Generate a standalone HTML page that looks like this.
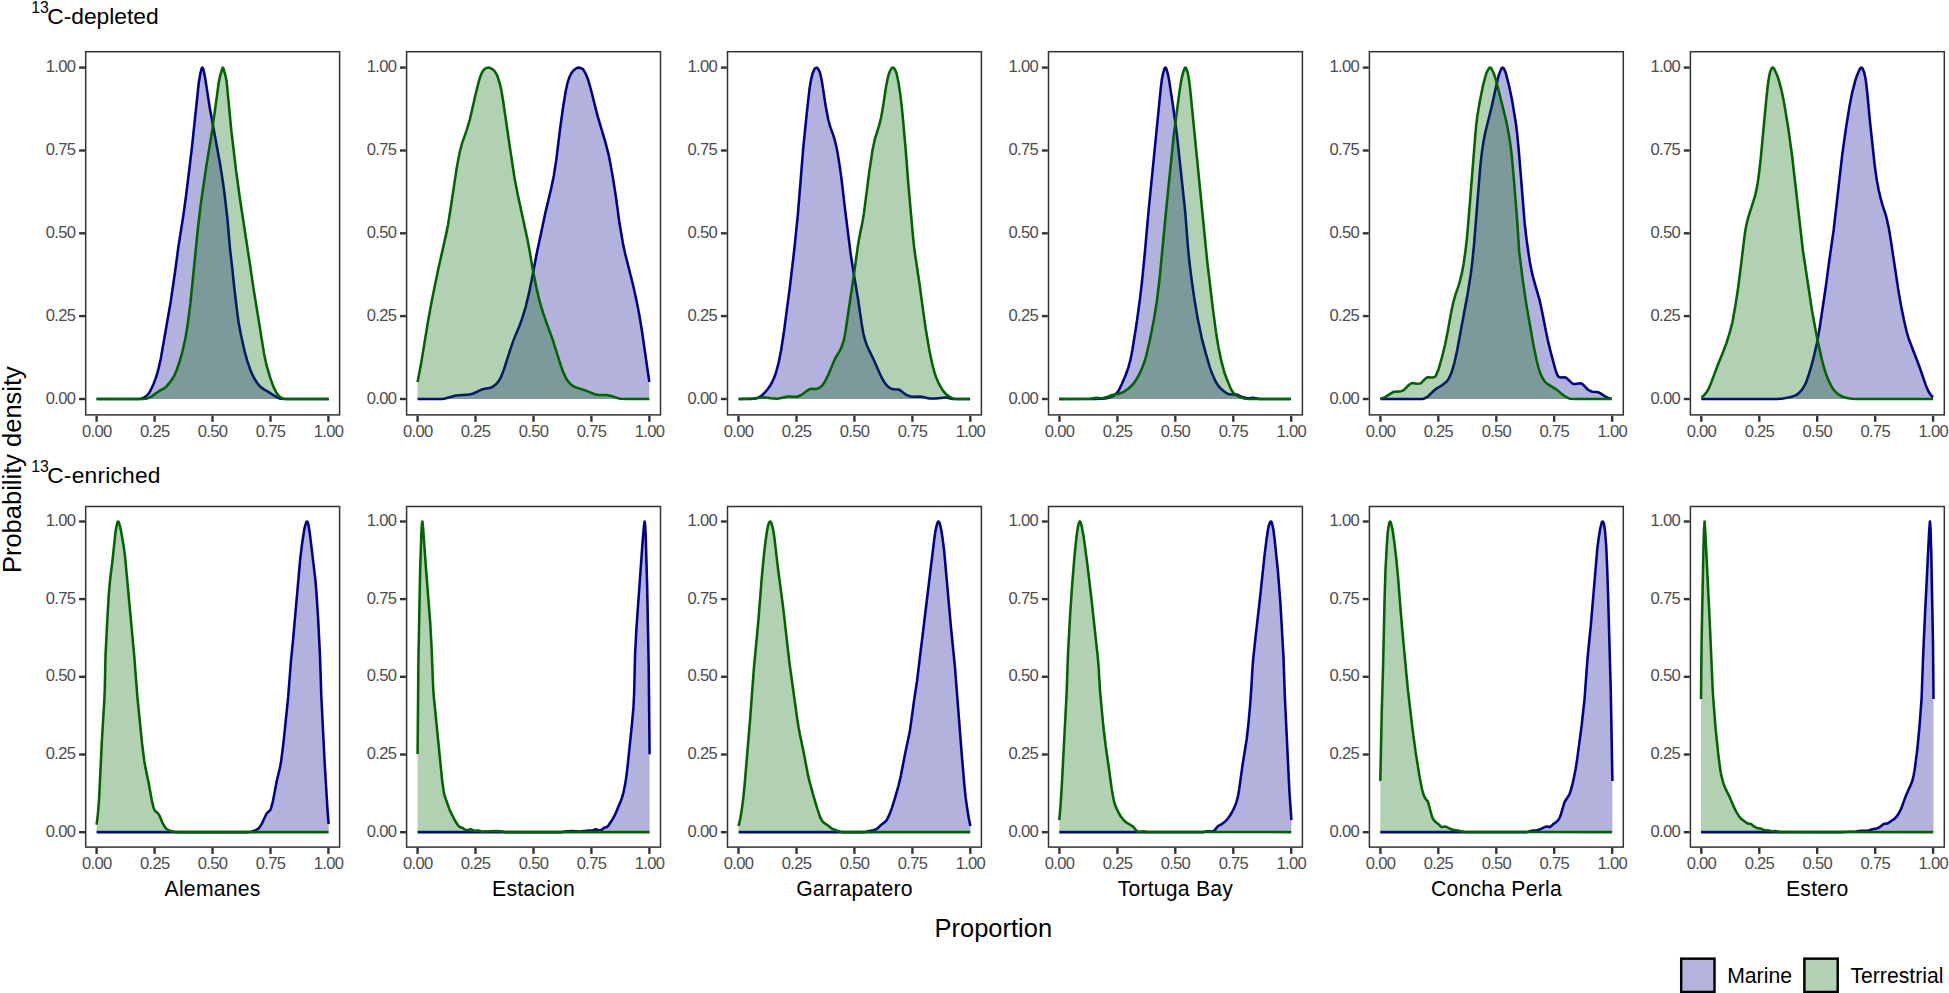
<!DOCTYPE html>
<html><head><meta charset="utf-8"><title>Probability density</title>
<style>
html,body{margin:0;padding:0;background:#fff;}
svg{display:block;}
text{font-family:"Liberation Sans",Arial,Helvetica,sans-serif;}
.tk{font-size:16.6px;fill:#4d4d4d;letter-spacing:-0.7px;}
.st{font-size:21.2px;fill:#000;letter-spacing:0.22px;}
.ti{font-size:22.8px;fill:#000;}
.ax{font-size:25.5px;fill:#000;}
.sup{font-size:15.8px;}
</style></head><body>
<svg width="1949" height="993" viewBox="0 0 1949 993">
<rect width="1949" height="993" fill="#fff"/>
<text class="ti" x="47.2" y="24.3"><tspan class="sup" x="31.2" y="13.4">13</tspan><tspan x="47.2" y="24.3">C-depleted</tspan></text>
<text class="ti" x="47.2" y="482.9"><tspan class="sup" x="31.2" y="472.0">13</tspan><tspan x="47.2" y="482.9" letter-spacing="0.2">C-enriched</tspan></text>
<text class="ax" transform="translate(21.3,469.6) rotate(-90)" text-anchor="middle">Probability density</text>
<text class="ax" x="993.3" y="936.8" text-anchor="middle">Proportion</text>
<g>
<path d="M96.6 399 L96.6 399 L138.5 399 L140.5 398.8 L142.8 398.1 L144.6 397.2 L146.2 396 L147.9 394.4 L149.4 392.5 L151.1 389.3 L153.3 384.6 L156.5 376 L158.7 367.9 L160.8 358.5 L170.7 301.7 L175.6 268 L178.3 247.4 L183.3 215.7 L186.1 195.5 L191.8 148.6 L198.8 82.5 L200.5 72.8 L201.7 68.4 L202 67.8 L202.4 67.6 L202.8 67.9 L203.3 69.3 L204.9 76.4 L209.8 108 L220 163.5 L223.1 183.3 L224.8 196 L227.4 218.7 L230 249 L232.2 267.7 L234.3 288 L237.3 313 L238.7 323 L240.9 334.8 L244.7 351.6 L247.1 360.4 L250.2 369.5 L252.2 374.3 L254.8 379.3 L257.2 383 L259.4 385.8 L261.5 387.6 L264.5 389.7 L269.7 392.7 L274.7 396 L278.9 398.2 L281.3 398.7 L285.2 399 L328.7 399 L328.7 399 Z" fill="#00008b" fill-opacity="0.3" stroke="none"/>
<path d="M96.6 399 L138.5 399 L140.5 398.8 L142.8 398.1 L144.6 397.2 L146.2 396 L147.9 394.4 L149.4 392.5 L151.1 389.3 L153.3 384.6 L156.5 376 L158.7 367.9 L160.8 358.5 L170.7 301.7 L175.6 268 L178.3 247.4 L183.3 215.7 L186.1 195.5 L191.8 148.6 L198.8 82.5 L200.5 72.8 L201.7 68.4 L202 67.8 L202.4 67.6 L202.8 67.9 L203.3 69.3 L204.9 76.4 L209.8 108 L220 163.5 L223.1 183.3 L224.8 196 L227.4 218.7 L230 249 L232.2 267.7 L234.3 288 L237.3 313 L238.7 323 L240.9 334.8 L244.7 351.6 L247.1 360.4 L250.2 369.5 L252.2 374.3 L254.8 379.3 L257.2 383 L259.4 385.8 L261.5 387.6 L264.5 389.7 L269.7 392.7 L274.7 396 L278.9 398.2 L281.3 398.7 L285.2 399 L328.7 399" fill="none" stroke="#00008b" stroke-width="2.55" stroke-linejoin="round"/>
<path d="M96.6 399 L96.6 399 L142.6 399 L145.7 398.7 L149.2 397.7 L151.7 396.4 L159.1 391 L164 388.4 L166.5 386.4 L169.8 382.4 L172.6 378.5 L174.9 374.3 L176.9 369.5 L180.1 360 L182.8 350 L185.3 338.6 L187.5 325.6 L190.4 303.4 L198.1 226.5 L201 202.6 L206.5 165 L212.1 131 L218.8 82.2 L220.2 75.6 L222.2 68.6 L222.8 67.6 L223.2 67.8 L223.4 68.4 L225.3 75 L226.6 81.2 L231.2 129.4 L236.1 170.8 L239.7 197 L250.3 266.6 L253.5 288.4 L264.2 354.4 L266.6 365.4 L270.1 377.3 L273.3 386.4 L276.3 392.4 L277.6 394.4 L278.9 395.9 L280.8 397.4 L282.5 398.4 L284.4 398.8 L287.2 399 L328.7 399 L328.7 399 Z" fill="#006400" fill-opacity="0.3" stroke="none"/>
<path d="M96.6 399 L142.6 399 L145.7 398.7 L149.2 397.7 L151.7 396.4 L159.1 391 L164 388.4 L166.5 386.4 L169.8 382.4 L172.6 378.5 L174.9 374.3 L176.9 369.5 L180.1 360 L182.8 350 L185.3 338.6 L187.5 325.6 L190.4 303.4 L198.1 226.5 L201 202.6 L206.5 165 L212.1 131 L218.8 82.2 L220.2 75.6 L222.2 68.6 L222.8 67.6 L223.2 67.8 L223.4 68.4 L225.3 75 L226.6 81.2 L231.2 129.4 L236.1 170.8 L239.7 197 L250.3 266.6 L253.5 288.4 L264.2 354.4 L266.6 365.4 L270.1 377.3 L273.3 386.4 L276.3 392.4 L277.6 394.4 L278.9 395.9 L280.8 397.4 L282.5 398.4 L284.4 398.8 L287.2 399 L328.7 399" fill="none" stroke="#006400" stroke-width="2.55" stroke-linejoin="round"/>
<rect x="85.7" y="51.7" width="253.9" height="363.2" fill="none" stroke="#333" stroke-width="1.5"/>
<line x1="96.6" y1="415.7" x2="96.6" y2="421.8" stroke="#333" stroke-width="2.4"/>
<text class="tk" x="96.7" y="436.8" text-anchor="middle">0.00</text>
<line x1="79.1" y1="399" x2="85" y2="399" stroke="#333" stroke-width="2.4"/>
<text class="tk" x="75.3" y="403.6" text-anchor="end">0.00</text>
<line x1="154.6" y1="415.7" x2="154.6" y2="421.8" stroke="#333" stroke-width="2.4"/>
<text class="tk" x="154.7" y="436.8" text-anchor="middle">0.25</text>
<line x1="79.1" y1="316.1" x2="85" y2="316.1" stroke="#333" stroke-width="2.4"/>
<text class="tk" x="75.3" y="320.8" text-anchor="end">0.25</text>
<line x1="212.5" y1="415.7" x2="212.5" y2="421.8" stroke="#333" stroke-width="2.4"/>
<text class="tk" x="212.6" y="436.8" text-anchor="middle">0.50</text>
<line x1="79.1" y1="233.3" x2="85" y2="233.3" stroke="#333" stroke-width="2.4"/>
<text class="tk" x="75.3" y="237.9" text-anchor="end">0.50</text>
<line x1="270.5" y1="415.7" x2="270.5" y2="421.8" stroke="#333" stroke-width="2.4"/>
<text class="tk" x="270.6" y="436.8" text-anchor="middle">0.75</text>
<line x1="79.1" y1="150.5" x2="85" y2="150.5" stroke="#333" stroke-width="2.4"/>
<text class="tk" x="75.3" y="155.1" text-anchor="end">0.75</text>
<line x1="328.4" y1="415.7" x2="328.4" y2="421.8" stroke="#333" stroke-width="2.4"/>
<text class="tk" x="328.5" y="436.8" text-anchor="middle">1.00</text>
<line x1="79.1" y1="67.6" x2="85" y2="67.6" stroke="#333" stroke-width="2.4"/>
<text class="tk" x="75.3" y="72.2" text-anchor="end">1.00</text>
</g>
<g>
<path d="M417.6 399 L417.6 399 L442.3 398.9 L445.1 398.4 L455.9 395.4 L469 394.5 L471.4 394.1 L473.3 393.5 L481.6 389.6 L483.6 389.1 L489.5 388.1 L492.4 386.9 L495.3 384.8 L497.3 382.8 L499.4 379.9 L501.1 376.8 L503.7 370.1 L510 350.3 L513 341.6 L515.6 334.9 L519.7 325.3 L521.9 319.3 L525.6 307.1 L528.8 293.9 L531.6 280.6 L537 251.9 L540.4 236.3 L545 214.4 L551.1 188.7 L553.8 175.8 L556.2 160.4 L560.2 127.9 L562.9 108.5 L565.3 93.5 L567.1 84.5 L568.2 80.6 L569.4 77.3 L570.7 74.4 L572.2 72 L573.4 70.5 L575.3 69 L577 68 L578.6 67.6 L579.7 67.7 L581.2 68.2 L582.6 69 L583.7 70.1 L585.8 73.9 L587.8 78.7 L590.8 89 L597.4 115.4 L605.1 141.1 L608.6 154.6 L610.6 164.8 L613.2 179.4 L616 197.5 L619.5 223.3 L623 243.8 L625.4 254.7 L631.5 278.7 L634.3 290.4 L636.9 302.5 L639.2 314.2 L642 331.2 L649.3 381.9 L649.3 399 Z" fill="#00008b" fill-opacity="0.3" stroke="none"/>
<path d="M417.6 399 L442.3 398.9 L445.1 398.4 L455.9 395.4 L469 394.5 L471.4 394.1 L473.3 393.5 L481.6 389.6 L483.6 389.1 L489.5 388.1 L492.4 386.9 L495.3 384.8 L497.3 382.8 L499.4 379.9 L501.1 376.8 L503.7 370.1 L510 350.3 L513 341.6 L515.6 334.9 L519.7 325.3 L521.9 319.3 L525.6 307.1 L528.8 293.9 L531.6 280.6 L537 251.9 L540.4 236.3 L545 214.4 L551.1 188.7 L553.8 175.8 L556.2 160.4 L560.2 127.9 L562.9 108.5 L565.3 93.5 L567.1 84.5 L568.2 80.6 L569.4 77.3 L570.7 74.4 L572.2 72 L573.4 70.5 L575.3 69 L577 68 L578.6 67.6 L579.7 67.7 L581.2 68.2 L582.6 69 L583.7 70.1 L585.8 73.9 L587.8 78.7 L590.8 89 L597.4 115.4 L605.1 141.1 L608.6 154.6 L610.6 164.8 L613.2 179.4 L616 197.5 L619.5 223.3 L623 243.8 L625.4 254.7 L631.5 278.7 L634.3 290.4 L636.9 302.5 L639.2 314.2 L642 331.2 L649.3 381.9" fill="none" stroke="#00008b" stroke-width="2.55" stroke-linejoin="round"/>
<path d="M417.6 399 L417.6 381.9 L421.2 362.7 L428.3 319.7 L431.7 301.2 L437.6 272.2 L445.8 235.6 L448 225 L450.7 208 L456.7 168.1 L459.5 153.2 L462.1 143.1 L466.6 130.3 L469.7 120 L471.2 113.8 L475.6 94.3 L478.6 82.2 L480 77.3 L482 72.5 L483.5 70.2 L484.9 68.9 L486.3 68 L487.4 67.7 L488.6 67.6 L490.5 68.1 L492.6 69.3 L493.8 70.2 L495.1 71.8 L496.7 74.5 L497.8 77.1 L500 84.3 L501.4 90.5 L503.1 100.8 L510.1 148.7 L514.7 179.1 L518.1 196.3 L527.7 240.5 L529.6 250.7 L533.1 271.6 L536.4 287.6 L539.6 301.2 L542.9 312.4 L546.7 323.3 L552.6 339.4 L561 366.1 L563.1 371.7 L565 376.1 L566.7 379.3 L568.8 382.2 L571 384.5 L573.2 386.2 L576.1 387.5 L586.8 390.9 L592.3 393.3 L594.1 394 L598.8 394.9 L606 395 L608 395.2 L613.4 396.6 L618 398.2 L620.7 398.7 L627.1 399 L649.3 399 L649.3 399 Z" fill="#006400" fill-opacity="0.3" stroke="none"/>
<path d="M417.6 381.9 L421.2 362.7 L428.3 319.7 L431.7 301.2 L437.6 272.2 L445.8 235.6 L448 225 L450.7 208 L456.7 168.1 L459.5 153.2 L462.1 143.1 L466.6 130.3 L469.7 120 L471.2 113.8 L475.6 94.3 L478.6 82.2 L480 77.3 L482 72.5 L483.5 70.2 L484.9 68.9 L486.3 68 L487.4 67.7 L488.6 67.6 L490.5 68.1 L492.6 69.3 L493.8 70.2 L495.1 71.8 L496.7 74.5 L497.8 77.1 L500 84.3 L501.4 90.5 L503.1 100.8 L510.1 148.7 L514.7 179.1 L518.1 196.3 L527.7 240.5 L529.6 250.7 L533.1 271.6 L536.4 287.6 L539.6 301.2 L542.9 312.4 L546.7 323.3 L552.6 339.4 L561 366.1 L563.1 371.7 L565 376.1 L566.7 379.3 L568.8 382.2 L571 384.5 L573.2 386.2 L576.1 387.5 L586.8 390.9 L592.3 393.3 L594.1 394 L598.8 394.9 L606 395 L608 395.2 L613.4 396.6 L618 398.2 L620.7 398.7 L627.1 399 L649.3 399" fill="none" stroke="#006400" stroke-width="2.55" stroke-linejoin="round"/>
<rect x="406.6" y="51.7" width="253.9" height="363.2" fill="none" stroke="#333" stroke-width="1.5"/>
<line x1="417.6" y1="415.7" x2="417.6" y2="421.8" stroke="#333" stroke-width="2.4"/>
<text class="tk" x="417.7" y="436.8" text-anchor="middle">0.00</text>
<line x1="400" y1="399" x2="405.9" y2="399" stroke="#333" stroke-width="2.4"/>
<text class="tk" x="396.2" y="403.6" text-anchor="end">0.00</text>
<line x1="475.5" y1="415.7" x2="475.5" y2="421.8" stroke="#333" stroke-width="2.4"/>
<text class="tk" x="475.6" y="436.8" text-anchor="middle">0.25</text>
<line x1="400" y1="316.1" x2="405.9" y2="316.1" stroke="#333" stroke-width="2.4"/>
<text class="tk" x="396.2" y="320.8" text-anchor="end">0.25</text>
<line x1="533.5" y1="415.7" x2="533.5" y2="421.8" stroke="#333" stroke-width="2.4"/>
<text class="tk" x="533.6" y="436.8" text-anchor="middle">0.50</text>
<line x1="400" y1="233.3" x2="405.9" y2="233.3" stroke="#333" stroke-width="2.4"/>
<text class="tk" x="396.2" y="237.9" text-anchor="end">0.50</text>
<line x1="591.4" y1="415.7" x2="591.4" y2="421.8" stroke="#333" stroke-width="2.4"/>
<text class="tk" x="591.5" y="436.8" text-anchor="middle">0.75</text>
<line x1="400" y1="150.5" x2="405.9" y2="150.5" stroke="#333" stroke-width="2.4"/>
<text class="tk" x="396.2" y="155.1" text-anchor="end">0.75</text>
<line x1="649.4" y1="415.7" x2="649.4" y2="421.8" stroke="#333" stroke-width="2.4"/>
<text class="tk" x="649.5" y="436.8" text-anchor="middle">1.00</text>
<line x1="400" y1="67.6" x2="405.9" y2="67.6" stroke="#333" stroke-width="2.4"/>
<text class="tk" x="396.2" y="72.2" text-anchor="end">1.00</text>
</g>
<g>
<path d="M738.6 399 L738.6 399 L750.2 399 L755.3 398.6 L757.2 398 L759.1 397.2 L760.8 396.2 L762.4 395 L765.4 391.9 L768 388.8 L770.2 385.5 L772.2 382 L774 378 L775.7 373.5 L777.1 368.5 L778.6 362.7 L781.1 350.2 L783.8 332.8 L789.8 287.5 L794.4 248.6 L797.9 214 L803.3 147.4 L806.9 112 L809.6 88.1 L811 79.9 L812.6 73.3 L813.5 71.2 L814.8 68.7 L815.6 67.9 L816.6 67.6 L817.5 68.1 L818.6 69.7 L819.8 72.2 L820.5 74.8 L822.1 82.6 L825.8 106.7 L828.2 119.3 L830 126.3 L833.2 134.9 L834.8 140.3 L836.2 146.1 L837.5 152.4 L839.8 166.6 L841.5 178.9 L845.2 210.6 L850.5 252.7 L852.8 267.7 L858.1 299.3 L861.5 322.7 L863.4 333.7 L865 339.9 L866.8 345.2 L870 352.1 L874.2 360.7 L880.1 374.3 L882.2 378.6 L884 381.7 L886.6 385.2 L888.6 387.1 L890.7 388.4 L892.5 389.1 L894.1 389.3 L898.1 389.4 L899.2 389.7 L900.2 390.3 L903 392.6 L906 394.6 L907.7 395.5 L910 396.3 L913.1 396.8 L920.7 396.5 L929.3 398.4 L931.7 398.6 L935.7 398.5 L945.6 397.4 L947.2 397.6 L950.2 398.6 L953 398.9 L970.1 399 L970.1 399 Z" fill="#00008b" fill-opacity="0.3" stroke="none"/>
<path d="M738.6 399 L750.2 399 L755.3 398.6 L757.2 398 L759.1 397.2 L760.8 396.2 L762.4 395 L765.4 391.9 L768 388.8 L770.2 385.5 L772.2 382 L774 378 L775.7 373.5 L777.1 368.5 L778.6 362.7 L781.1 350.2 L783.8 332.8 L789.8 287.5 L794.4 248.6 L797.9 214 L803.3 147.4 L806.9 112 L809.6 88.1 L811 79.9 L812.6 73.3 L813.5 71.2 L814.8 68.7 L815.6 67.9 L816.6 67.6 L817.5 68.1 L818.6 69.7 L819.8 72.2 L820.5 74.8 L822.1 82.6 L825.8 106.7 L828.2 119.3 L830 126.3 L833.2 134.9 L834.8 140.3 L836.2 146.1 L837.5 152.4 L839.8 166.6 L841.5 178.9 L845.2 210.6 L850.5 252.7 L852.8 267.7 L858.1 299.3 L861.5 322.7 L863.4 333.7 L865 339.9 L866.8 345.2 L870 352.1 L874.2 360.7 L880.1 374.3 L882.2 378.6 L884 381.7 L886.6 385.2 L888.6 387.1 L890.7 388.4 L892.5 389.1 L894.1 389.3 L898.1 389.4 L899.2 389.7 L900.2 390.3 L903 392.6 L906 394.6 L907.7 395.5 L910 396.3 L913.1 396.8 L920.7 396.5 L929.3 398.4 L931.7 398.6 L935.7 398.5 L945.6 397.4 L947.2 397.6 L950.2 398.6 L953 398.9 L970.1 399" fill="none" stroke="#00008b" stroke-width="2.55" stroke-linejoin="round"/>
<path d="M738.6 399 L738.6 399 L753.3 398.6 L764 397.2 L766 397.4 L770.7 398.3 L777.1 398.7 L778.7 398.5 L783 397.4 L787.7 396.6 L789.7 396.5 L794.9 396.8 L796.8 396.7 L799.1 396 L802 394.6 L806.4 391.2 L809.8 389.2 L811.8 388.8 L816.6 388.9 L818.4 388.3 L820.4 387 L822.2 385.4 L823.6 383.5 L825.7 380.1 L828.3 374.7 L834.8 359.2 L836.2 356.7 L839.3 351.7 L840.8 348.8 L842.3 345.1 L843.6 340.9 L844.6 336.7 L845.6 330.7 L854.2 272.6 L857.7 247.2 L859.4 237 L862.6 221.3 L863.9 213.4 L869.4 170.9 L872.6 149.6 L875 138.6 L879.1 125.7 L881.1 117.5 L882.8 108.1 L886.1 86.3 L887.9 77.3 L889.1 73.2 L890.2 70.6 L891.6 68.3 L892.2 67.8 L892.8 67.6 L893.8 68 L894.5 68.9 L895.8 71.3 L896.6 73.5 L898.5 82.5 L900.4 95.1 L901.7 106.2 L903 119.4 L905.5 147.3 L908.4 184.7 L912.9 235.7 L914.2 247.7 L915.3 256 L919.5 283.7 L923.3 312.2 L925.8 329.3 L929.2 349.4 L932.2 363.9 L934.8 373.5 L936.3 377.7 L938 381.7 L939.9 385.6 L942.2 389.4 L944.1 392 L946.3 394.3 L948.1 395.8 L949.8 396.9 L952.3 398.1 L954.6 398.8 L957 399 L970.1 399 L970.1 399 Z" fill="#006400" fill-opacity="0.3" stroke="none"/>
<path d="M738.6 399 L753.3 398.6 L764 397.2 L766 397.4 L770.7 398.3 L777.1 398.7 L778.7 398.5 L783 397.4 L787.7 396.6 L789.7 396.5 L794.9 396.8 L796.8 396.7 L799.1 396 L802 394.6 L806.4 391.2 L809.8 389.2 L811.8 388.8 L816.6 388.9 L818.4 388.3 L820.4 387 L822.2 385.4 L823.6 383.5 L825.7 380.1 L828.3 374.7 L834.8 359.2 L836.2 356.7 L839.3 351.7 L840.8 348.8 L842.3 345.1 L843.6 340.9 L844.6 336.7 L845.6 330.7 L854.2 272.6 L857.7 247.2 L859.4 237 L862.6 221.3 L863.9 213.4 L869.4 170.9 L872.6 149.6 L875 138.6 L879.1 125.7 L881.1 117.5 L882.8 108.1 L886.1 86.3 L887.9 77.3 L889.1 73.2 L890.2 70.6 L891.6 68.3 L892.2 67.8 L892.8 67.6 L893.8 68 L894.5 68.9 L895.8 71.3 L896.6 73.5 L898.5 82.5 L900.4 95.1 L901.7 106.2 L903 119.4 L905.5 147.3 L908.4 184.7 L912.9 235.7 L914.2 247.7 L915.3 256 L919.5 283.7 L923.3 312.2 L925.8 329.3 L929.2 349.4 L932.2 363.9 L934.8 373.5 L936.3 377.7 L938 381.7 L939.9 385.6 L942.2 389.4 L944.1 392 L946.3 394.3 L948.1 395.8 L949.8 396.9 L952.3 398.1 L954.6 398.8 L957 399 L970.1 399" fill="none" stroke="#006400" stroke-width="2.55" stroke-linejoin="round"/>
<rect x="727.5" y="51.7" width="253.9" height="363.2" fill="none" stroke="#333" stroke-width="1.5"/>
<line x1="738.5" y1="415.7" x2="738.5" y2="421.8" stroke="#333" stroke-width="2.4"/>
<text class="tk" x="738.6" y="436.8" text-anchor="middle">0.00</text>
<line x1="720.9" y1="399" x2="726.8" y2="399" stroke="#333" stroke-width="2.4"/>
<text class="tk" x="717.1" y="403.6" text-anchor="end">0.00</text>
<line x1="796.5" y1="415.7" x2="796.5" y2="421.8" stroke="#333" stroke-width="2.4"/>
<text class="tk" x="796.6" y="436.8" text-anchor="middle">0.25</text>
<line x1="720.9" y1="316.1" x2="726.8" y2="316.1" stroke="#333" stroke-width="2.4"/>
<text class="tk" x="717.1" y="320.8" text-anchor="end">0.25</text>
<line x1="854.4" y1="415.7" x2="854.4" y2="421.8" stroke="#333" stroke-width="2.4"/>
<text class="tk" x="854.5" y="436.8" text-anchor="middle">0.50</text>
<line x1="720.9" y1="233.3" x2="726.8" y2="233.3" stroke="#333" stroke-width="2.4"/>
<text class="tk" x="717.1" y="237.9" text-anchor="end">0.50</text>
<line x1="912.4" y1="415.7" x2="912.4" y2="421.8" stroke="#333" stroke-width="2.4"/>
<text class="tk" x="912.5" y="436.8" text-anchor="middle">0.75</text>
<line x1="720.9" y1="150.5" x2="726.8" y2="150.5" stroke="#333" stroke-width="2.4"/>
<text class="tk" x="717.1" y="155.1" text-anchor="end">0.75</text>
<line x1="970.3" y1="415.7" x2="970.3" y2="421.8" stroke="#333" stroke-width="2.4"/>
<text class="tk" x="970.4" y="436.8" text-anchor="middle">1.00</text>
<line x1="720.9" y1="67.6" x2="726.8" y2="67.6" stroke="#333" stroke-width="2.4"/>
<text class="tk" x="717.1" y="72.2" text-anchor="end">1.00</text>
</g>
<g>
<path d="M1059.2 399 L1059.2 399 L1093.6 399 L1102 398.8 L1106.7 398.2 L1112 396.5 L1114.1 395.3 L1116.3 393.6 L1117.6 392.1 L1118.9 390.1 L1121.7 384.3 L1123.8 379.6 L1126 374 L1128.3 367.6 L1130.5 359.5 L1132.5 349.2 L1136.7 322.8 L1140 298.6 L1141.8 283.4 L1144.7 254.4 L1148.6 210.5 L1160.8 87.8 L1161.8 79.8 L1162.9 74 L1164.4 68.8 L1164.9 67.9 L1165.4 67.6 L1165.8 67.8 L1166.2 68.5 L1167.3 71.8 L1168.2 75.5 L1169.2 80.6 L1173 105.9 L1177 135.3 L1185.2 211.7 L1187.9 246.4 L1189.4 262 L1191.3 277.5 L1194.1 297.3 L1197.7 318.6 L1201.7 337.8 L1205.8 353.3 L1209.7 366.8 L1211.8 372.8 L1215.1 380.5 L1216.7 383.3 L1218.5 385.9 L1220.3 388.1 L1222.4 390 L1226.2 392.9 L1228.3 394.1 L1229.8 394.3 L1235.4 394.4 L1237 394.6 L1242 396.9 L1245.1 397.8 L1247.5 398.2 L1249.1 398.2 L1253 397.8 L1259.7 398.9 L1290.9 399 L1290.9 399 Z" fill="#00008b" fill-opacity="0.3" stroke="none"/>
<path d="M1059.2 399 L1093.6 399 L1102 398.8 L1106.7 398.2 L1112 396.5 L1114.1 395.3 L1116.3 393.6 L1117.6 392.1 L1118.9 390.1 L1121.7 384.3 L1123.8 379.6 L1126 374 L1128.3 367.6 L1130.5 359.5 L1132.5 349.2 L1136.7 322.8 L1140 298.6 L1141.8 283.4 L1144.7 254.4 L1148.6 210.5 L1160.8 87.8 L1161.8 79.8 L1162.9 74 L1164.4 68.8 L1164.9 67.9 L1165.4 67.6 L1165.8 67.8 L1166.2 68.5 L1167.3 71.8 L1168.2 75.5 L1169.2 80.6 L1173 105.9 L1177 135.3 L1185.2 211.7 L1187.9 246.4 L1189.4 262 L1191.3 277.5 L1194.1 297.3 L1197.7 318.6 L1201.7 337.8 L1205.8 353.3 L1209.7 366.8 L1211.8 372.8 L1215.1 380.5 L1216.7 383.3 L1218.5 385.9 L1220.3 388.1 L1222.4 390 L1226.2 392.9 L1228.3 394.1 L1229.8 394.3 L1235.4 394.4 L1237 394.6 L1242 396.9 L1245.1 397.8 L1247.5 398.2 L1249.1 398.2 L1253 397.8 L1259.7 398.9 L1290.9 399" fill="none" stroke="#00008b" stroke-width="2.55" stroke-linejoin="round"/>
<path d="M1059.2 399 L1059.2 399 L1090 398.7 L1092 398.5 L1096.3 397.8 L1100.6 398.3 L1102.2 398.2 L1106.9 397.1 L1112.1 395 L1118 394 L1121.8 392.8 L1124.6 391.3 L1128.2 388.7 L1131.4 385.8 L1134.1 382.8 L1136.3 379.5 L1138.7 375.3 L1141 370.6 L1143 365.8 L1144.8 360.5 L1146.3 355.5 L1149.9 339.9 L1153.9 319.5 L1156.8 301.7 L1159.5 279.5 L1166.2 209.7 L1173.7 135.6 L1179.1 94.3 L1180.7 83.6 L1181.8 77.8 L1182.9 73.2 L1184.4 68.8 L1185 67.8 L1185.5 67.6 L1185.9 67.9 L1186.5 68.8 L1187.9 73.6 L1188.9 79 L1189.9 86.6 L1207.4 263.1 L1213.2 311.2 L1216 332.2 L1218.6 348 L1221.5 361.7 L1224.3 372.2 L1227.5 380.8 L1230.4 387.8 L1232.1 391 L1233.5 392.9 L1235.5 394.8 L1237.6 396.1 L1240.1 397.3 L1243.9 398.4 L1248.7 399 L1290.9 399 L1290.9 399 Z" fill="#006400" fill-opacity="0.3" stroke="none"/>
<path d="M1059.2 399 L1090 398.7 L1092 398.5 L1096.3 397.8 L1100.6 398.3 L1102.2 398.2 L1106.9 397.1 L1112.1 395 L1118 394 L1121.8 392.8 L1124.6 391.3 L1128.2 388.7 L1131.4 385.8 L1134.1 382.8 L1136.3 379.5 L1138.7 375.3 L1141 370.6 L1143 365.8 L1144.8 360.5 L1146.3 355.5 L1149.9 339.9 L1153.9 319.5 L1156.8 301.7 L1159.5 279.5 L1166.2 209.7 L1173.7 135.6 L1179.1 94.3 L1180.7 83.6 L1181.8 77.8 L1182.9 73.2 L1184.4 68.8 L1185 67.8 L1185.5 67.6 L1185.9 67.9 L1186.5 68.8 L1187.9 73.6 L1188.9 79 L1189.9 86.6 L1207.4 263.1 L1213.2 311.2 L1216 332.2 L1218.6 348 L1221.5 361.7 L1224.3 372.2 L1227.5 380.8 L1230.4 387.8 L1232.1 391 L1233.5 392.9 L1235.5 394.8 L1237.6 396.1 L1240.1 397.3 L1243.9 398.4 L1248.7 399 L1290.9 399" fill="none" stroke="#006400" stroke-width="2.55" stroke-linejoin="round"/>
<rect x="1048.5" y="51.7" width="253.9" height="363.2" fill="none" stroke="#333" stroke-width="1.5"/>
<line x1="1059.4" y1="415.7" x2="1059.4" y2="421.8" stroke="#333" stroke-width="2.4"/>
<text class="tk" x="1059.5" y="436.8" text-anchor="middle">0.00</text>
<line x1="1041.9" y1="399" x2="1047.8" y2="399" stroke="#333" stroke-width="2.4"/>
<text class="tk" x="1038.1" y="403.6" text-anchor="end">0.00</text>
<line x1="1117.4" y1="415.7" x2="1117.4" y2="421.8" stroke="#333" stroke-width="2.4"/>
<text class="tk" x="1117.5" y="436.8" text-anchor="middle">0.25</text>
<line x1="1041.9" y1="316.1" x2="1047.8" y2="316.1" stroke="#333" stroke-width="2.4"/>
<text class="tk" x="1038.1" y="320.8" text-anchor="end">0.25</text>
<line x1="1175.3" y1="415.7" x2="1175.3" y2="421.8" stroke="#333" stroke-width="2.4"/>
<text class="tk" x="1175.4" y="436.8" text-anchor="middle">0.50</text>
<line x1="1041.9" y1="233.3" x2="1047.8" y2="233.3" stroke="#333" stroke-width="2.4"/>
<text class="tk" x="1038.1" y="237.9" text-anchor="end">0.50</text>
<line x1="1233.3" y1="415.7" x2="1233.3" y2="421.8" stroke="#333" stroke-width="2.4"/>
<text class="tk" x="1233.4" y="436.8" text-anchor="middle">0.75</text>
<line x1="1041.9" y1="150.5" x2="1047.8" y2="150.5" stroke="#333" stroke-width="2.4"/>
<text class="tk" x="1038.1" y="155.1" text-anchor="end">0.75</text>
<line x1="1291.2" y1="415.7" x2="1291.2" y2="421.8" stroke="#333" stroke-width="2.4"/>
<text class="tk" x="1291.3" y="436.8" text-anchor="middle">1.00</text>
<line x1="1041.9" y1="67.6" x2="1047.8" y2="67.6" stroke="#333" stroke-width="2.4"/>
<text class="tk" x="1038.1" y="72.2" text-anchor="end">1.00</text>
</g>
<g>
<path d="M1380.3 399 L1380.3 399 L1421.1 399 L1422.7 398.9 L1424.2 398.5 L1426.4 397.5 L1427.7 396.6 L1434 390.5 L1435.9 388.9 L1441.7 385.5 L1445.5 382.6 L1447.2 380.9 L1448.5 378.9 L1450 376.1 L1451.4 372.8 L1454.4 362.8 L1457 351.1 L1467.8 292.9 L1470.7 274.7 L1472.4 260.8 L1474 244.9 L1480.2 167.5 L1481.7 153.6 L1483.4 142.1 L1485.2 132.7 L1491.5 107.4 L1497.9 78.5 L1499.3 73.6 L1500.9 69.6 L1501.9 67.9 L1502.7 67.6 L1503.3 67.9 L1504 68.8 L1505.7 72.8 L1509 85.5 L1511.9 99.2 L1516 124 L1517.3 135.2 L1518.8 150.7 L1524.8 224.5 L1526.9 242 L1529.8 261.8 L1531.3 269.6 L1533.1 277.4 L1539.8 300.9 L1541.9 310.7 L1545.5 329.1 L1547.7 339.7 L1551.1 353.7 L1555.8 371 L1557.6 375.4 L1558.3 376.4 L1559.2 377.1 L1561.1 377.5 L1564.6 377.3 L1565.7 377.6 L1567 378.4 L1571.9 383.1 L1573.3 383.9 L1575.2 384 L1580.3 383.3 L1581.5 383.5 L1583.1 384.6 L1587.8 389.5 L1589.8 390.8 L1592.4 391.7 L1597.2 392.1 L1598.7 392.4 L1600.1 393.1 L1606.5 397.3 L1609.1 398.2 L1611.7 398.7 L1611.7 399 Z" fill="#00008b" fill-opacity="0.3" stroke="none"/>
<path d="M1380.3 399 L1421.1 399 L1422.7 398.9 L1424.2 398.5 L1426.4 397.5 L1427.7 396.6 L1434 390.5 L1435.9 388.9 L1441.7 385.5 L1445.5 382.6 L1447.2 380.9 L1448.5 378.9 L1450 376.1 L1451.4 372.8 L1454.4 362.8 L1457 351.1 L1467.8 292.9 L1470.7 274.7 L1472.4 260.8 L1474 244.9 L1480.2 167.5 L1481.7 153.6 L1483.4 142.1 L1485.2 132.7 L1491.5 107.4 L1497.9 78.5 L1499.3 73.6 L1500.9 69.6 L1501.9 67.9 L1502.7 67.6 L1503.3 67.9 L1504 68.8 L1505.7 72.8 L1509 85.5 L1511.9 99.2 L1516 124 L1517.3 135.2 L1518.8 150.7 L1524.8 224.5 L1526.9 242 L1529.8 261.8 L1531.3 269.6 L1533.1 277.4 L1539.8 300.9 L1541.9 310.7 L1545.5 329.1 L1547.7 339.7 L1551.1 353.7 L1555.8 371 L1557.6 375.4 L1558.3 376.4 L1559.2 377.1 L1561.1 377.5 L1564.6 377.3 L1565.7 377.6 L1567 378.4 L1571.9 383.1 L1573.3 383.9 L1575.2 384 L1580.3 383.3 L1581.5 383.5 L1583.1 384.6 L1587.8 389.5 L1589.8 390.8 L1592.4 391.7 L1597.2 392.1 L1598.7 392.4 L1600.1 393.1 L1606.5 397.3 L1609.1 398.2 L1611.7 398.7" fill="none" stroke="#00008b" stroke-width="2.55" stroke-linejoin="round"/>
<path d="M1380.3 399 L1380.3 398.7 L1383 397.9 L1385.5 396.8 L1393 392.1 L1394.5 391.8 L1399.7 391.6 L1402.7 390.6 L1404.7 389.2 L1407.4 386.3 L1409.1 384.7 L1411.4 383.2 L1412.9 383 L1416.4 383.7 L1420 383.6 L1421.3 382.8 L1424 379.9 L1426.8 377.6 L1428.3 377.3 L1432.2 377.5 L1434.5 377.1 L1435.4 376.4 L1436 375.4 L1438.6 369.2 L1442.1 356.9 L1445.1 344.5 L1447.7 331.5 L1451.4 311 L1452.8 304.4 L1455.3 295.1 L1458.7 285.3 L1460.1 280.3 L1461.9 272.9 L1463.6 263.9 L1465.5 250.8 L1467.1 236.5 L1469.4 209 L1475.1 137.6 L1476.1 126 L1477.3 116.1 L1479.8 101.5 L1482.6 87.4 L1484.6 79.2 L1486 74.3 L1487.2 71.4 L1488.9 68.3 L1489.4 67.8 L1490.1 67.6 L1490.7 67.8 L1491.4 68.7 L1493.4 72.5 L1494.9 76.6 L1496.7 82.7 L1505.5 118 L1507.5 127.4 L1509.3 137.3 L1510.6 146 L1511.7 155.1 L1514.3 184.2 L1517.4 223.7 L1519.1 250.8 L1522.5 278.2 L1526.2 303.6 L1533.5 345.3 L1536.8 361 L1538.5 367.6 L1540 372.5 L1541.4 375.8 L1543.1 379 L1544.4 381 L1546 382.8 L1548.5 384.7 L1557.1 389.9 L1561.6 393.9 L1564.5 396 L1566.5 397.2 L1569.1 398.4 L1571 398.8 L1575.4 399 L1611.7 399 L1611.7 399 Z" fill="#006400" fill-opacity="0.3" stroke="none"/>
<path d="M1380.3 398.7 L1383 397.9 L1385.5 396.8 L1393 392.1 L1394.5 391.8 L1399.7 391.6 L1402.7 390.6 L1404.7 389.2 L1407.4 386.3 L1409.1 384.7 L1411.4 383.2 L1412.9 383 L1416.4 383.7 L1420 383.6 L1421.3 382.8 L1424 379.9 L1426.8 377.6 L1428.3 377.3 L1432.2 377.5 L1434.5 377.1 L1435.4 376.4 L1436 375.4 L1438.6 369.2 L1442.1 356.9 L1445.1 344.5 L1447.7 331.5 L1451.4 311 L1452.8 304.4 L1455.3 295.1 L1458.7 285.3 L1460.1 280.3 L1461.9 272.9 L1463.6 263.9 L1465.5 250.8 L1467.1 236.5 L1469.4 209 L1475.1 137.6 L1476.1 126 L1477.3 116.1 L1479.8 101.5 L1482.6 87.4 L1484.6 79.2 L1486 74.3 L1487.2 71.4 L1488.9 68.3 L1489.4 67.8 L1490.1 67.6 L1490.7 67.8 L1491.4 68.7 L1493.4 72.5 L1494.9 76.6 L1496.7 82.7 L1505.5 118 L1507.5 127.4 L1509.3 137.3 L1510.6 146 L1511.7 155.1 L1514.3 184.2 L1517.4 223.7 L1519.1 250.8 L1522.5 278.2 L1526.2 303.6 L1533.5 345.3 L1536.8 361 L1538.5 367.6 L1540 372.5 L1541.4 375.8 L1543.1 379 L1544.4 381 L1546 382.8 L1548.5 384.7 L1557.1 389.9 L1561.6 393.9 L1564.5 396 L1566.5 397.2 L1569.1 398.4 L1571 398.8 L1575.4 399 L1611.7 399" fill="none" stroke="#006400" stroke-width="2.55" stroke-linejoin="round"/>
<rect x="1369.4" y="51.7" width="253.9" height="363.2" fill="none" stroke="#333" stroke-width="1.5"/>
<line x1="1380.4" y1="415.7" x2="1380.4" y2="421.8" stroke="#333" stroke-width="2.4"/>
<text class="tk" x="1380.5" y="436.8" text-anchor="middle">0.00</text>
<line x1="1362.8" y1="399" x2="1368.7" y2="399" stroke="#333" stroke-width="2.4"/>
<text class="tk" x="1359" y="403.6" text-anchor="end">0.00</text>
<line x1="1438.3" y1="415.7" x2="1438.3" y2="421.8" stroke="#333" stroke-width="2.4"/>
<text class="tk" x="1438.4" y="436.8" text-anchor="middle">0.25</text>
<line x1="1362.8" y1="316.1" x2="1368.7" y2="316.1" stroke="#333" stroke-width="2.4"/>
<text class="tk" x="1359" y="320.8" text-anchor="end">0.25</text>
<line x1="1496.3" y1="415.7" x2="1496.3" y2="421.8" stroke="#333" stroke-width="2.4"/>
<text class="tk" x="1496.4" y="436.8" text-anchor="middle">0.50</text>
<line x1="1362.8" y1="233.3" x2="1368.7" y2="233.3" stroke="#333" stroke-width="2.4"/>
<text class="tk" x="1359" y="237.9" text-anchor="end">0.50</text>
<line x1="1554.2" y1="415.7" x2="1554.2" y2="421.8" stroke="#333" stroke-width="2.4"/>
<text class="tk" x="1554.3" y="436.8" text-anchor="middle">0.75</text>
<line x1="1362.8" y1="150.5" x2="1368.7" y2="150.5" stroke="#333" stroke-width="2.4"/>
<text class="tk" x="1359" y="155.1" text-anchor="end">0.75</text>
<line x1="1612.2" y1="415.7" x2="1612.2" y2="421.8" stroke="#333" stroke-width="2.4"/>
<text class="tk" x="1612.3" y="436.8" text-anchor="middle">1.00</text>
<line x1="1362.8" y1="67.6" x2="1368.7" y2="67.6" stroke="#333" stroke-width="2.4"/>
<text class="tk" x="1359" y="72.2" text-anchor="end">1.00</text>
</g>
<g>
<path d="M1701.3 399 L1701.3 399 L1777.7 399 L1782.9 398.6 L1788.4 397.6 L1791.5 396.8 L1794.9 395.6 L1797 394.5 L1799.4 392.5 L1801.6 390.1 L1803.4 387.5 L1805.3 384 L1807 379.9 L1808.9 374.2 L1811.1 366.9 L1813.2 359.2 L1816.9 343.2 L1819.7 327.5 L1825.5 288.7 L1829.3 260.5 L1833.7 229.7 L1842.3 154.1 L1846.1 127.2 L1849.5 106.2 L1852.3 92.1 L1855.2 80.9 L1856.8 75.9 L1858.3 72.3 L1860.2 68.4 L1860.7 67.9 L1861.3 67.6 L1861.9 67.8 L1862.6 68.6 L1864 71.9 L1865.1 76.4 L1866.1 82.7 L1867.5 95 L1869.7 118.9 L1874.5 163.5 L1875.7 172.6 L1876.8 180.1 L1878.5 189.2 L1880.6 198.1 L1882.3 204.3 L1886.1 216.1 L1888.6 227 L1890.3 236.9 L1898.5 291.1 L1901.2 306.4 L1903.9 319.8 L1906.6 331.5 L1909 339.5 L1919.2 366 L1925.6 384.6 L1927.5 389.4 L1929.1 392.6 L1931.2 395.5 L1933.1 397.2 L1933.1 399 Z" fill="#00008b" fill-opacity="0.3" stroke="none"/>
<path d="M1701.3 399 L1777.7 399 L1782.9 398.6 L1788.4 397.6 L1791.5 396.8 L1794.9 395.6 L1797 394.5 L1799.4 392.5 L1801.6 390.1 L1803.4 387.5 L1805.3 384 L1807 379.9 L1808.9 374.2 L1811.1 366.9 L1813.2 359.2 L1816.9 343.2 L1819.7 327.5 L1825.5 288.7 L1829.3 260.5 L1833.7 229.7 L1842.3 154.1 L1846.1 127.2 L1849.5 106.2 L1852.3 92.1 L1855.2 80.9 L1856.8 75.9 L1858.3 72.3 L1860.2 68.4 L1860.7 67.9 L1861.3 67.6 L1861.9 67.8 L1862.6 68.6 L1864 71.9 L1865.1 76.4 L1866.1 82.7 L1867.5 95 L1869.7 118.9 L1874.5 163.5 L1875.7 172.6 L1876.8 180.1 L1878.5 189.2 L1880.6 198.1 L1882.3 204.3 L1886.1 216.1 L1888.6 227 L1890.3 236.9 L1898.5 291.1 L1901.2 306.4 L1903.9 319.8 L1906.6 331.5 L1909 339.5 L1919.2 366 L1925.6 384.6 L1927.5 389.4 L1929.1 392.6 L1931.2 395.5 L1933.1 397.2" fill="none" stroke="#00008b" stroke-width="2.55" stroke-linejoin="round"/>
<path d="M1701.3 399 L1701.3 397.2 L1702.7 396.4 L1703.9 395.4 L1706.7 392 L1708.5 388.9 L1710.9 383.4 L1718.5 363.2 L1723.2 351.7 L1726.3 343.5 L1729.8 332.4 L1732.4 322.3 L1734.9 308.6 L1738 288.8 L1740.4 270.1 L1744.5 236.4 L1745.8 227.7 L1747 222.2 L1748.4 216.8 L1755 196.2 L1756.3 190.4 L1757.7 182.9 L1759.1 172.6 L1760.6 159.9 L1766.4 98.1 L1768 83.8 L1769 77.1 L1770.1 72.1 L1771.6 68.5 L1772.4 67.7 L1773 67.6 L1773.5 67.9 L1774 68.5 L1775.9 72.4 L1777.3 75.6 L1778.8 80.2 L1781.6 90.6 L1784.2 103.6 L1788 126.4 L1791.9 154.2 L1802.9 250.4 L1812 310.5 L1815.6 330.2 L1819.3 348.2 L1821.9 359.6 L1823.7 366.5 L1825.6 372.6 L1827.6 378.3 L1829.6 382.7 L1831.6 386.6 L1833.3 389.3 L1835.1 391.4 L1837.4 393.6 L1839.7 395.2 L1842.2 396.5 L1845.2 397.6 L1848.3 398.3 L1852.7 398.8 L1856.7 399 L1933.1 399 L1933.1 399 Z" fill="#006400" fill-opacity="0.3" stroke="none"/>
<path d="M1701.3 397.2 L1702.7 396.4 L1703.9 395.4 L1706.7 392 L1708.5 388.9 L1710.9 383.4 L1718.5 363.2 L1723.2 351.7 L1726.3 343.5 L1729.8 332.4 L1732.4 322.3 L1734.9 308.6 L1738 288.8 L1740.4 270.1 L1744.5 236.4 L1745.8 227.7 L1747 222.2 L1748.4 216.8 L1755 196.2 L1756.3 190.4 L1757.7 182.9 L1759.1 172.6 L1760.6 159.9 L1766.4 98.1 L1768 83.8 L1769 77.1 L1770.1 72.1 L1771.6 68.5 L1772.4 67.7 L1773 67.6 L1773.5 67.9 L1774 68.5 L1775.9 72.4 L1777.3 75.6 L1778.8 80.2 L1781.6 90.6 L1784.2 103.6 L1788 126.4 L1791.9 154.2 L1802.9 250.4 L1812 310.5 L1815.6 330.2 L1819.3 348.2 L1821.9 359.6 L1823.7 366.5 L1825.6 372.6 L1827.6 378.3 L1829.6 382.7 L1831.6 386.6 L1833.3 389.3 L1835.1 391.4 L1837.4 393.6 L1839.7 395.2 L1842.2 396.5 L1845.2 397.6 L1848.3 398.3 L1852.7 398.8 L1856.7 399 L1933.1 399" fill="none" stroke="#006400" stroke-width="2.55" stroke-linejoin="round"/>
<rect x="1690.4" y="51.7" width="253.9" height="363.2" fill="none" stroke="#333" stroke-width="1.5"/>
<line x1="1701.3" y1="415.7" x2="1701.3" y2="421.8" stroke="#333" stroke-width="2.4"/>
<text class="tk" x="1701.4" y="436.8" text-anchor="middle">0.00</text>
<line x1="1683.8" y1="399" x2="1689.7" y2="399" stroke="#333" stroke-width="2.4"/>
<text class="tk" x="1680" y="403.6" text-anchor="end">0.00</text>
<line x1="1759.3" y1="415.7" x2="1759.3" y2="421.8" stroke="#333" stroke-width="2.4"/>
<text class="tk" x="1759.4" y="436.8" text-anchor="middle">0.25</text>
<line x1="1683.8" y1="316.1" x2="1689.7" y2="316.1" stroke="#333" stroke-width="2.4"/>
<text class="tk" x="1680" y="320.8" text-anchor="end">0.25</text>
<line x1="1817.2" y1="415.7" x2="1817.2" y2="421.8" stroke="#333" stroke-width="2.4"/>
<text class="tk" x="1817.3" y="436.8" text-anchor="middle">0.50</text>
<line x1="1683.8" y1="233.3" x2="1689.7" y2="233.3" stroke="#333" stroke-width="2.4"/>
<text class="tk" x="1680" y="237.9" text-anchor="end">0.50</text>
<line x1="1875.2" y1="415.7" x2="1875.2" y2="421.8" stroke="#333" stroke-width="2.4"/>
<text class="tk" x="1875.3" y="436.8" text-anchor="middle">0.75</text>
<line x1="1683.8" y1="150.5" x2="1689.7" y2="150.5" stroke="#333" stroke-width="2.4"/>
<text class="tk" x="1680" y="155.1" text-anchor="end">0.75</text>
<line x1="1933.1" y1="415.7" x2="1933.1" y2="421.8" stroke="#333" stroke-width="2.4"/>
<text class="tk" x="1933.2" y="436.8" text-anchor="middle">1.00</text>
<line x1="1683.8" y1="67.6" x2="1689.7" y2="67.6" stroke="#333" stroke-width="2.4"/>
<text class="tk" x="1680" y="72.2" text-anchor="end">1.00</text>
</g>
<g>
<path d="M96.6 832.2 L96.6 832.1 L248.6 832.1 L251.4 831.7 L256.3 829.9 L258.3 828.7 L259.9 826.9 L262.3 822.8 L264.6 817.7 L266.5 813.8 L267.5 812.5 L269.9 810.6 L270.5 809.6 L271.1 807.8 L272.9 801.3 L276.8 780.8 L279.8 768.3 L281.1 761.6 L283.7 740.6 L288.2 696.7 L290.9 661.5 L293.1 639.2 L300.3 558.1 L302 544.2 L304.2 530 L304.9 526.6 L305.9 523.2 L306.4 521.8 L307.1 521.5 L307.5 521.8 L307.8 522.5 L308.5 525.1 L309.8 533.1 L315.2 578.1 L316.5 593.3 L318.1 618.1 L320 655.7 L321.3 695.8 L324.5 759.8 L327.3 806.7 L328.6 824.2 L328.6 832.2 Z" fill="#00008b" fill-opacity="0.3" stroke="none"/>
<path d="M96.6 832.1 L248.6 832.1 L251.4 831.7 L256.3 829.9 L258.3 828.7 L259.9 826.9 L262.3 822.8 L264.6 817.7 L266.5 813.8 L267.5 812.5 L269.9 810.6 L270.5 809.6 L271.1 807.8 L272.9 801.3 L276.8 780.8 L279.8 768.3 L281.1 761.6 L283.7 740.6 L288.2 696.7 L290.9 661.5 L293.1 639.2 L300.3 558.1 L302 544.2 L304.2 530 L304.9 526.6 L305.9 523.2 L306.4 521.8 L307.1 521.5 L307.5 521.8 L307.8 522.5 L308.5 525.1 L309.8 533.1 L315.2 578.1 L316.5 593.3 L318.1 618.1 L320 655.7 L321.3 695.8 L324.5 759.8 L327.3 806.7 L328.6 824.2" fill="none" stroke="#00008b" stroke-width="2.55" stroke-linejoin="round"/>
<path d="M96.6 832.2 L96.6 824.7 L98 812.8 L99.1 798.8 L101.8 742.3 L104.4 698.7 L104.8 689.1 L105.5 655.4 L107.4 618.2 L108.7 595.7 L110 580.6 L112.6 559.5 L115.4 532.8 L116.2 527.7 L117 524 L117.6 521.9 L118.2 521.5 L118.6 521.8 L119.1 523.2 L120.3 527.6 L121.3 532.6 L123.6 545.7 L125.1 557.2 L134.3 656.6 L137.3 696.2 L142 742.9 L144.2 760.4 L145.3 767.1 L148.4 781.6 L151.9 800.9 L153.6 807.9 L154.3 809.7 L154.9 810.7 L157.6 812.9 L159 814.8 L160.2 817.3 L162.6 823.2 L164.6 826.7 L166.4 828.8 L168.7 830.3 L172.5 831.6 L175.6 832.1 L328.6 832.1 L328.6 832.2 Z" fill="#006400" fill-opacity="0.3" stroke="none"/>
<path d="M96.6 824.7 L98 812.8 L99.1 798.8 L101.8 742.3 L104.4 698.7 L104.8 689.1 L105.5 655.4 L107.4 618.2 L108.7 595.7 L110 580.6 L112.6 559.5 L115.4 532.8 L116.2 527.7 L117 524 L117.6 521.9 L118.2 521.5 L118.6 521.8 L119.1 523.2 L120.3 527.6 L121.3 532.6 L123.6 545.7 L125.1 557.2 L134.3 656.6 L137.3 696.2 L142 742.9 L144.2 760.4 L145.3 767.1 L148.4 781.6 L151.9 800.9 L153.6 807.9 L154.3 809.7 L154.9 810.7 L157.6 812.9 L159 814.8 L160.2 817.3 L162.6 823.2 L164.6 826.7 L166.4 828.8 L168.7 830.3 L172.5 831.6 L175.6 832.1 L328.6 832.1" fill="none" stroke="#006400" stroke-width="2.55" stroke-linejoin="round"/>
<rect x="85.7" y="506.5" width="253.9" height="340.6" fill="none" stroke="#333" stroke-width="1.5"/>
<line x1="96.6" y1="847.8" x2="96.6" y2="853.9" stroke="#333" stroke-width="2.4"/>
<text class="tk" x="96.7" y="868.9" text-anchor="middle">0.00</text>
<line x1="79.1" y1="832.2" x2="85" y2="832.2" stroke="#333" stroke-width="2.4"/>
<text class="tk" x="75.3" y="836.8" text-anchor="end">0.00</text>
<line x1="154.6" y1="847.8" x2="154.6" y2="853.9" stroke="#333" stroke-width="2.4"/>
<text class="tk" x="154.7" y="868.9" text-anchor="middle">0.25</text>
<line x1="79.1" y1="754.5" x2="85" y2="754.5" stroke="#333" stroke-width="2.4"/>
<text class="tk" x="75.3" y="759.1" text-anchor="end">0.25</text>
<line x1="212.5" y1="847.8" x2="212.5" y2="853.9" stroke="#333" stroke-width="2.4"/>
<text class="tk" x="212.6" y="868.9" text-anchor="middle">0.50</text>
<line x1="79.1" y1="676.8" x2="85" y2="676.8" stroke="#333" stroke-width="2.4"/>
<text class="tk" x="75.3" y="681.4" text-anchor="end">0.50</text>
<line x1="270.5" y1="847.8" x2="270.5" y2="853.9" stroke="#333" stroke-width="2.4"/>
<text class="tk" x="270.6" y="868.9" text-anchor="middle">0.75</text>
<line x1="79.1" y1="599.1" x2="85" y2="599.1" stroke="#333" stroke-width="2.4"/>
<text class="tk" x="75.3" y="603.7" text-anchor="end">0.75</text>
<line x1="328.4" y1="847.8" x2="328.4" y2="853.9" stroke="#333" stroke-width="2.4"/>
<text class="tk" x="328.5" y="868.9" text-anchor="middle">1.00</text>
<line x1="79.1" y1="521.5" x2="85" y2="521.5" stroke="#333" stroke-width="2.4"/>
<text class="tk" x="75.3" y="526.1" text-anchor="end">1.00</text>
<text class="st" x="212.6" y="895.8" text-anchor="middle">Alemanes</text>
</g>
<g>
<path d="M417.6 832.2 L417.6 832.1 L562 832.1 L565.1 831.4 L567.9 831.2 L572.3 831.1 L579.5 831.4 L589.4 830.4 L592.5 830.6 L593.3 830.4 L594.9 829.4 L595.6 829.2 L598 830.2 L600.3 830.3 L601.8 829.8 L604.2 827.8 L606.8 827 L608.3 825.7 L612.9 818.7 L614.8 815.2 L620.9 800.7 L622.1 797.3 L623.5 792.3 L624.9 785.6 L626.1 778.1 L627.4 768.1 L631.8 725.7 L633.5 706.4 L634.1 694 L635.1 653.8 L636.5 627.3 L642.5 543 L643.8 527.5 L644.6 521.5 L644.8 522.1 L645.1 525 L645.6 532.9 L647.2 587.6 L648.7 666.8 L649.6 754.2 L649.6 832.2 Z" fill="#00008b" fill-opacity="0.3" stroke="none"/>
<path d="M417.6 832.1 L562 832.1 L565.1 831.4 L567.9 831.2 L572.3 831.1 L579.5 831.4 L589.4 830.4 L592.5 830.6 L593.3 830.4 L594.9 829.4 L595.6 829.2 L598 830.2 L600.3 830.3 L601.8 829.8 L604.2 827.8 L606.8 827 L608.3 825.7 L612.9 818.7 L614.8 815.2 L620.9 800.7 L622.1 797.3 L623.5 792.3 L624.9 785.6 L626.1 778.1 L627.4 768.1 L631.8 725.7 L633.5 706.4 L634.1 694 L635.1 653.8 L636.5 627.3 L642.5 543 L643.8 527.5 L644.6 521.5 L644.8 522.1 L645.1 525 L645.6 532.9 L647.2 587.6 L648.7 666.8 L649.6 754.2" fill="none" stroke="#00008b" stroke-width="2.55" stroke-linejoin="round"/>
<path d="M417.6 832.2 L417.6 754.1 L418.4 660.8 L420.1 571.4 L421.3 534.4 L421.8 525.6 L422.2 522 L422.4 521.5 L423.1 528.2 L425.8 566.2 L430.2 622.4 L431.7 650.1 L433 684.3 L433.6 694.7 L442.2 780.8 L443.7 791.6 L444.5 795.1 L445.6 798.5 L449.1 808.4 L450.8 812.4 L455.2 821 L457.8 825 L459.4 826.8 L462.7 828 L464.8 829.7 L465.9 830.2 L467.8 830.1 L470.4 829.3 L471.2 829.2 L471.8 829.4 L473.4 830.6 L474.1 830.8 L478.4 830.5 L481.1 831.3 L482.2 831.4 L498.2 831.1 L502.2 831.4 L504.9 832.1 L506.5 832.1 L649.6 832.1 L649.6 832.2 Z" fill="#006400" fill-opacity="0.3" stroke="none"/>
<path d="M417.6 754.1 L418.4 660.8 L420.1 571.4 L421.3 534.4 L421.8 525.6 L422.2 522 L422.4 521.5 L423.1 528.2 L425.8 566.2 L430.2 622.4 L431.7 650.1 L433 684.3 L433.6 694.7 L442.2 780.8 L443.7 791.6 L444.5 795.1 L445.6 798.5 L449.1 808.4 L450.8 812.4 L455.2 821 L457.8 825 L459.4 826.8 L462.7 828 L464.8 829.7 L465.9 830.2 L467.8 830.1 L470.4 829.3 L471.2 829.2 L471.8 829.4 L473.4 830.6 L474.1 830.8 L478.4 830.5 L481.1 831.3 L482.2 831.4 L498.2 831.1 L502.2 831.4 L504.9 832.1 L506.5 832.1 L649.6 832.1" fill="none" stroke="#006400" stroke-width="2.55" stroke-linejoin="round"/>
<rect x="406.6" y="506.5" width="253.9" height="340.6" fill="none" stroke="#333" stroke-width="1.5"/>
<line x1="417.6" y1="847.8" x2="417.6" y2="853.9" stroke="#333" stroke-width="2.4"/>
<text class="tk" x="417.7" y="868.9" text-anchor="middle">0.00</text>
<line x1="400" y1="832.2" x2="405.9" y2="832.2" stroke="#333" stroke-width="2.4"/>
<text class="tk" x="396.2" y="836.8" text-anchor="end">0.00</text>
<line x1="475.5" y1="847.8" x2="475.5" y2="853.9" stroke="#333" stroke-width="2.4"/>
<text class="tk" x="475.6" y="868.9" text-anchor="middle">0.25</text>
<line x1="400" y1="754.5" x2="405.9" y2="754.5" stroke="#333" stroke-width="2.4"/>
<text class="tk" x="396.2" y="759.1" text-anchor="end">0.25</text>
<line x1="533.5" y1="847.8" x2="533.5" y2="853.9" stroke="#333" stroke-width="2.4"/>
<text class="tk" x="533.6" y="868.9" text-anchor="middle">0.50</text>
<line x1="400" y1="676.8" x2="405.9" y2="676.8" stroke="#333" stroke-width="2.4"/>
<text class="tk" x="396.2" y="681.4" text-anchor="end">0.50</text>
<line x1="591.4" y1="847.8" x2="591.4" y2="853.9" stroke="#333" stroke-width="2.4"/>
<text class="tk" x="591.5" y="868.9" text-anchor="middle">0.75</text>
<line x1="400" y1="599.1" x2="405.9" y2="599.1" stroke="#333" stroke-width="2.4"/>
<text class="tk" x="396.2" y="603.7" text-anchor="end">0.75</text>
<line x1="649.4" y1="847.8" x2="649.4" y2="853.9" stroke="#333" stroke-width="2.4"/>
<text class="tk" x="649.5" y="868.9" text-anchor="middle">1.00</text>
<line x1="400" y1="521.5" x2="405.9" y2="521.5" stroke="#333" stroke-width="2.4"/>
<text class="tk" x="396.2" y="526.1" text-anchor="end">1.00</text>
<text class="st" x="533.6" y="895.8" text-anchor="middle">Estacion</text>
</g>
<g>
<path d="M738.6 832.2 L738.6 832.1 L865 832.1 L873.2 830.3 L876.2 829.3 L877.8 828.1 L881.3 824.7 L885.1 821.9 L886.9 819.8 L889.5 814.4 L892 807.6 L895.1 797.7 L898.4 786.1 L900.5 777.2 L905.6 751.2 L909.8 731.6 L913.8 702.3 L917.1 680.5 L934.4 538 L935.4 531.3 L936.3 526.7 L937.5 522.7 L938 521.7 L938.5 521.5 L939.1 522 L939.6 523 L941.1 529 L942.6 538.4 L944.1 550.4 L950.9 626.6 L954.9 666.5 L961.9 756.4 L964.5 786.4 L965.7 797.9 L967.1 807.8 L968.6 817.3 L970.4 826 L970.4 832.2 Z" fill="#00008b" fill-opacity="0.3" stroke="none"/>
<path d="M738.6 832.1 L865 832.1 L873.2 830.3 L876.2 829.3 L877.8 828.1 L881.3 824.7 L885.1 821.9 L886.9 819.8 L889.5 814.4 L892 807.6 L895.1 797.7 L898.4 786.1 L900.5 777.2 L905.6 751.2 L909.8 731.6 L913.8 702.3 L917.1 680.5 L934.4 538 L935.4 531.3 L936.3 526.7 L937.5 522.7 L938 521.7 L938.5 521.5 L939.1 522 L939.6 523 L941.1 529 L942.6 538.4 L944.1 550.4 L950.9 626.6 L954.9 666.5 L961.9 756.4 L964.5 786.4 L965.7 797.9 L967.1 807.8 L968.6 817.3 L970.4 826" fill="none" stroke="#00008b" stroke-width="2.55" stroke-linejoin="round"/>
<path d="M738.6 832.2 L738.6 826 L740.3 818.5 L741.7 810.3 L743.2 798.7 L744.6 785.2 L750.1 719.3 L753.8 669.3 L758.4 620.3 L761.6 579.5 L763.9 555.2 L765.6 540.5 L767.2 529.8 L767.9 526.4 L768.8 523.4 L769.4 522 L770.1 521.5 L770.6 521.7 L771.2 522.6 L772.4 526.3 L773.3 530.8 L774.4 537.6 L778 568.6 L783.2 607.9 L789.5 663.3 L797.1 718 L798.6 727.5 L800 735 L803.2 749.9 L807.6 773.1 L809.3 780.6 L812.8 793.7 L817.2 808.3 L820 816.6 L821.7 820.2 L822.9 821.8 L824 822.9 L827.7 825.3 L830.8 827.8 L832.1 828.7 L836.6 830.5 L840.4 831.7 L842.7 832.1 L970.2 832.1 L970.2 832.2 Z" fill="#006400" fill-opacity="0.3" stroke="none"/>
<path d="M738.6 826 L740.3 818.5 L741.7 810.3 L743.2 798.7 L744.6 785.2 L750.1 719.3 L753.8 669.3 L758.4 620.3 L761.6 579.5 L763.9 555.2 L765.6 540.5 L767.2 529.8 L767.9 526.4 L768.8 523.4 L769.4 522 L770.1 521.5 L770.6 521.7 L771.2 522.6 L772.4 526.3 L773.3 530.8 L774.4 537.6 L778 568.6 L783.2 607.9 L789.5 663.3 L797.1 718 L798.6 727.5 L800 735 L803.2 749.9 L807.6 773.1 L809.3 780.6 L812.8 793.7 L817.2 808.3 L820 816.6 L821.7 820.2 L822.9 821.8 L824 822.9 L827.7 825.3 L830.8 827.8 L832.1 828.7 L836.6 830.5 L840.4 831.7 L842.7 832.1 L970.2 832.1" fill="none" stroke="#006400" stroke-width="2.55" stroke-linejoin="round"/>
<rect x="727.5" y="506.5" width="253.9" height="340.6" fill="none" stroke="#333" stroke-width="1.5"/>
<line x1="738.5" y1="847.8" x2="738.5" y2="853.9" stroke="#333" stroke-width="2.4"/>
<text class="tk" x="738.6" y="868.9" text-anchor="middle">0.00</text>
<line x1="720.9" y1="832.2" x2="726.8" y2="832.2" stroke="#333" stroke-width="2.4"/>
<text class="tk" x="717.1" y="836.8" text-anchor="end">0.00</text>
<line x1="796.5" y1="847.8" x2="796.5" y2="853.9" stroke="#333" stroke-width="2.4"/>
<text class="tk" x="796.6" y="868.9" text-anchor="middle">0.25</text>
<line x1="720.9" y1="754.5" x2="726.8" y2="754.5" stroke="#333" stroke-width="2.4"/>
<text class="tk" x="717.1" y="759.1" text-anchor="end">0.25</text>
<line x1="854.4" y1="847.8" x2="854.4" y2="853.9" stroke="#333" stroke-width="2.4"/>
<text class="tk" x="854.5" y="868.9" text-anchor="middle">0.50</text>
<line x1="720.9" y1="676.8" x2="726.8" y2="676.8" stroke="#333" stroke-width="2.4"/>
<text class="tk" x="717.1" y="681.4" text-anchor="end">0.50</text>
<line x1="912.4" y1="847.8" x2="912.4" y2="853.9" stroke="#333" stroke-width="2.4"/>
<text class="tk" x="912.5" y="868.9" text-anchor="middle">0.75</text>
<line x1="720.9" y1="599.1" x2="726.8" y2="599.1" stroke="#333" stroke-width="2.4"/>
<text class="tk" x="717.1" y="603.7" text-anchor="end">0.75</text>
<line x1="970.3" y1="847.8" x2="970.3" y2="853.9" stroke="#333" stroke-width="2.4"/>
<text class="tk" x="970.4" y="868.9" text-anchor="middle">1.00</text>
<line x1="720.9" y1="521.5" x2="726.8" y2="521.5" stroke="#333" stroke-width="2.4"/>
<text class="tk" x="717.1" y="526.1" text-anchor="end">1.00</text>
<text class="st" x="854.5" y="895.8" text-anchor="middle">Garrapatero</text>
</g>
<g>
<path d="M1059.3 832.2 L1059.3 832.1 L1201.7 832.1 L1203.7 832.1 L1207.2 831.3 L1211.9 831.5 L1213.4 831 L1214.7 830.1 L1217.4 826.7 L1218.3 825.9 L1222.2 823.8 L1224.4 822.1 L1227.2 819.3 L1229.4 816.5 L1232.1 812 L1234.4 807.4 L1236.4 802.1 L1237.9 796.7 L1239.2 789.2 L1242.6 764.6 L1246.6 739.7 L1248.3 725 L1250.1 705 L1251.2 689.8 L1252.6 666.2 L1253.5 656.2 L1255.8 634.7 L1259.2 605.3 L1264.4 556.6 L1266.4 540.3 L1267.9 530 L1268.6 526.6 L1269.6 523.3 L1270.2 521.9 L1270.9 521.5 L1271.4 521.7 L1271.7 522.4 L1272.8 526.5 L1273.6 531 L1274.6 539 L1277.9 570.9 L1280.4 603.2 L1283.5 657.3 L1284.8 695.7 L1289.4 791.4 L1291.4 820.1 L1291.4 832.2 Z" fill="#00008b" fill-opacity="0.3" stroke="none"/>
<path d="M1059.3 832.1 L1201.7 832.1 L1203.7 832.1 L1207.2 831.3 L1211.9 831.5 L1213.4 831 L1214.7 830.1 L1217.4 826.7 L1218.3 825.9 L1222.2 823.8 L1224.4 822.1 L1227.2 819.3 L1229.4 816.5 L1232.1 812 L1234.4 807.4 L1236.4 802.1 L1237.9 796.7 L1239.2 789.2 L1242.6 764.6 L1246.6 739.7 L1248.3 725 L1250.1 705 L1251.2 689.8 L1252.6 666.2 L1253.5 656.2 L1255.8 634.7 L1259.2 605.3 L1264.4 556.6 L1266.4 540.3 L1267.9 530 L1268.6 526.6 L1269.6 523.3 L1270.2 521.9 L1270.9 521.5 L1271.4 521.7 L1271.7 522.4 L1272.8 526.5 L1273.6 531 L1274.6 539 L1277.9 570.9 L1280.4 603.2 L1283.5 657.3 L1284.8 695.7 L1289.4 791.4 L1291.4 820.1" fill="none" stroke="#00008b" stroke-width="2.55" stroke-linejoin="round"/>
<path d="M1059.3 832.2 L1059.3 820.1 L1060.7 803.4 L1062 781.8 L1066.6 693.7 L1068 653.6 L1070.1 615.2 L1072.1 585.6 L1074.4 556.8 L1076.5 536.9 L1077.4 530.2 L1078.1 526 L1079.1 522.3 L1079.4 521.7 L1079.8 521.5 L1080.2 521.7 L1080.6 522.3 L1081.7 526 L1083.5 535.7 L1087.3 563.9 L1091.5 599.3 L1097.7 656.3 L1098.6 666.3 L1099.9 689.1 L1100.9 700.7 L1103.4 727 L1105.8 746.9 L1108.3 764 L1111.6 788.2 L1113.4 798.5 L1114.5 803.1 L1116 807.3 L1118.6 812.7 L1120.8 816.5 L1123 819.3 L1125.2 821.6 L1127.5 823.2 L1133 826.5 L1133.8 827.3 L1135.5 829.6 L1136.6 830.7 L1137.9 831.6 L1139 831.9 L1143.3 831.3 L1146.9 831.9 L1148.9 832 L1291.2 832.1 L1291.2 832.2 Z" fill="#006400" fill-opacity="0.3" stroke="none"/>
<path d="M1059.3 820.1 L1060.7 803.4 L1062 781.8 L1066.6 693.7 L1068 653.6 L1070.1 615.2 L1072.1 585.6 L1074.4 556.8 L1076.5 536.9 L1077.4 530.2 L1078.1 526 L1079.1 522.3 L1079.4 521.7 L1079.8 521.5 L1080.2 521.7 L1080.6 522.3 L1081.7 526 L1083.5 535.7 L1087.3 563.9 L1091.5 599.3 L1097.7 656.3 L1098.6 666.3 L1099.9 689.1 L1100.9 700.7 L1103.4 727 L1105.8 746.9 L1108.3 764 L1111.6 788.2 L1113.4 798.5 L1114.5 803.1 L1116 807.3 L1118.6 812.7 L1120.8 816.5 L1123 819.3 L1125.2 821.6 L1127.5 823.2 L1133 826.5 L1133.8 827.3 L1135.5 829.6 L1136.6 830.7 L1137.9 831.6 L1139 831.9 L1143.3 831.3 L1146.9 831.9 L1148.9 832 L1291.2 832.1" fill="none" stroke="#006400" stroke-width="2.55" stroke-linejoin="round"/>
<rect x="1048.5" y="506.5" width="253.9" height="340.6" fill="none" stroke="#333" stroke-width="1.5"/>
<line x1="1059.4" y1="847.8" x2="1059.4" y2="853.9" stroke="#333" stroke-width="2.4"/>
<text class="tk" x="1059.5" y="868.9" text-anchor="middle">0.00</text>
<line x1="1041.9" y1="832.2" x2="1047.8" y2="832.2" stroke="#333" stroke-width="2.4"/>
<text class="tk" x="1038.1" y="836.8" text-anchor="end">0.00</text>
<line x1="1117.4" y1="847.8" x2="1117.4" y2="853.9" stroke="#333" stroke-width="2.4"/>
<text class="tk" x="1117.5" y="868.9" text-anchor="middle">0.25</text>
<line x1="1041.9" y1="754.5" x2="1047.8" y2="754.5" stroke="#333" stroke-width="2.4"/>
<text class="tk" x="1038.1" y="759.1" text-anchor="end">0.25</text>
<line x1="1175.3" y1="847.8" x2="1175.3" y2="853.9" stroke="#333" stroke-width="2.4"/>
<text class="tk" x="1175.4" y="868.9" text-anchor="middle">0.50</text>
<line x1="1041.9" y1="676.8" x2="1047.8" y2="676.8" stroke="#333" stroke-width="2.4"/>
<text class="tk" x="1038.1" y="681.4" text-anchor="end">0.50</text>
<line x1="1233.3" y1="847.8" x2="1233.3" y2="853.9" stroke="#333" stroke-width="2.4"/>
<text class="tk" x="1233.4" y="868.9" text-anchor="middle">0.75</text>
<line x1="1041.9" y1="599.1" x2="1047.8" y2="599.1" stroke="#333" stroke-width="2.4"/>
<text class="tk" x="1038.1" y="603.7" text-anchor="end">0.75</text>
<line x1="1291.2" y1="847.8" x2="1291.2" y2="853.9" stroke="#333" stroke-width="2.4"/>
<text class="tk" x="1291.3" y="868.9" text-anchor="middle">1.00</text>
<line x1="1041.9" y1="521.5" x2="1047.8" y2="521.5" stroke="#333" stroke-width="2.4"/>
<text class="tk" x="1038.1" y="526.1" text-anchor="end">1.00</text>
<text class="st" x="1175.4" y="895.8" text-anchor="middle">Tortuga Bay</text>
</g>
<g>
<path d="M1380.3 832.2 L1380.3 832.1 L1526.7 832.1 L1528.3 831.8 L1531.7 830.8 L1536.9 830.2 L1538.9 829.8 L1545.7 826.7 L1546.9 826.6 L1549.2 827 L1549.9 826.9 L1550.9 826.3 L1553.2 824.1 L1556.5 821.9 L1558.4 819.8 L1559.6 817.8 L1560.5 815.6 L1564.5 802.2 L1565.5 800.5 L1568.8 795.5 L1569.7 793.7 L1570.7 790.7 L1572.5 784.1 L1574.1 776.7 L1575.7 768.4 L1577.2 758.9 L1581.6 725.9 L1584.6 698.4 L1587.5 658.5 L1591 623.4 L1597.2 549.9 L1598.6 538.7 L1600 529.6 L1601.4 523.7 L1601.9 522.2 L1602.5 521.5 L1602.7 521.5 L1603.1 521.8 L1603.8 523.5 L1604.5 527.2 L1605.1 531.9 L1606.2 545.8 L1607.1 565.9 L1608.1 595.5 L1610.8 691.7 L1612.4 780.9 L1612.4 832.2 Z" fill="#00008b" fill-opacity="0.3" stroke="none"/>
<path d="M1380.3 832.1 L1526.7 832.1 L1528.3 831.8 L1531.7 830.8 L1536.9 830.2 L1538.9 829.8 L1545.7 826.7 L1546.9 826.6 L1549.2 827 L1549.9 826.9 L1550.9 826.3 L1553.2 824.1 L1556.5 821.9 L1558.4 819.8 L1559.6 817.8 L1560.5 815.6 L1564.5 802.2 L1565.5 800.5 L1568.8 795.5 L1569.7 793.7 L1570.7 790.7 L1572.5 784.1 L1574.1 776.7 L1575.7 768.4 L1577.2 758.9 L1581.6 725.9 L1584.6 698.4 L1587.5 658.5 L1591 623.4 L1597.2 549.9 L1598.6 538.7 L1600 529.6 L1601.4 523.7 L1601.9 522.2 L1602.5 521.5 L1602.7 521.5 L1603.1 521.8 L1603.8 523.5 L1604.5 527.2 L1605.1 531.9 L1606.2 545.8 L1607.1 565.9 L1608.1 595.5 L1610.8 691.7 L1612.4 780.9" fill="none" stroke="#00008b" stroke-width="2.55" stroke-linejoin="round"/>
<path d="M1380.3 832.2 L1380.3 780.9 L1381.8 709.9 L1383.1 665.4 L1384.6 598.5 L1385.5 569.2 L1386.8 545.6 L1387.7 532.4 L1388.4 527.4 L1389.1 523.7 L1389.6 521.9 L1390.1 521.5 L1390.7 522.1 L1391.1 523.6 L1392.1 527.6 L1392.9 531.8 L1394.3 542.2 L1396.3 558.9 L1398 576.8 L1400.9 613.6 L1403.1 638.8 L1407.9 689.9 L1412.4 728.1 L1415.5 751.2 L1419.4 775.8 L1421.2 785.2 L1422.5 791.1 L1423.6 794.5 L1424.8 797.4 L1425.6 798.8 L1427.4 800.9 L1428.1 802.3 L1432 816.5 L1432.7 818.3 L1433.8 820 L1435.7 822.1 L1438.5 824.2 L1440.5 826.2 L1441.4 826.9 L1442.5 827.1 L1444.9 826.6 L1446 826.7 L1450.3 828.8 L1452.9 829.8 L1458.8 830.8 L1463.8 831.9 L1612.1 832.1 L1612.1 832.2 Z" fill="#006400" fill-opacity="0.3" stroke="none"/>
<path d="M1380.3 780.9 L1381.8 709.9 L1383.1 665.4 L1384.6 598.5 L1385.5 569.2 L1386.8 545.6 L1387.7 532.4 L1388.4 527.4 L1389.1 523.7 L1389.6 521.9 L1390.1 521.5 L1390.7 522.1 L1391.1 523.6 L1392.1 527.6 L1392.9 531.8 L1394.3 542.2 L1396.3 558.9 L1398 576.8 L1400.9 613.6 L1403.1 638.8 L1407.9 689.9 L1412.4 728.1 L1415.5 751.2 L1419.4 775.8 L1421.2 785.2 L1422.5 791.1 L1423.6 794.5 L1424.8 797.4 L1425.6 798.8 L1427.4 800.9 L1428.1 802.3 L1432 816.5 L1432.7 818.3 L1433.8 820 L1435.7 822.1 L1438.5 824.2 L1440.5 826.2 L1441.4 826.9 L1442.5 827.1 L1444.9 826.6 L1446 826.7 L1450.3 828.8 L1452.9 829.8 L1458.8 830.8 L1463.8 831.9 L1612.1 832.1" fill="none" stroke="#006400" stroke-width="2.55" stroke-linejoin="round"/>
<rect x="1369.4" y="506.5" width="253.9" height="340.6" fill="none" stroke="#333" stroke-width="1.5"/>
<line x1="1380.4" y1="847.8" x2="1380.4" y2="853.9" stroke="#333" stroke-width="2.4"/>
<text class="tk" x="1380.5" y="868.9" text-anchor="middle">0.00</text>
<line x1="1362.8" y1="832.2" x2="1368.7" y2="832.2" stroke="#333" stroke-width="2.4"/>
<text class="tk" x="1359" y="836.8" text-anchor="end">0.00</text>
<line x1="1438.3" y1="847.8" x2="1438.3" y2="853.9" stroke="#333" stroke-width="2.4"/>
<text class="tk" x="1438.4" y="868.9" text-anchor="middle">0.25</text>
<line x1="1362.8" y1="754.5" x2="1368.7" y2="754.5" stroke="#333" stroke-width="2.4"/>
<text class="tk" x="1359" y="759.1" text-anchor="end">0.25</text>
<line x1="1496.3" y1="847.8" x2="1496.3" y2="853.9" stroke="#333" stroke-width="2.4"/>
<text class="tk" x="1496.4" y="868.9" text-anchor="middle">0.50</text>
<line x1="1362.8" y1="676.8" x2="1368.7" y2="676.8" stroke="#333" stroke-width="2.4"/>
<text class="tk" x="1359" y="681.4" text-anchor="end">0.50</text>
<line x1="1554.2" y1="847.8" x2="1554.2" y2="853.9" stroke="#333" stroke-width="2.4"/>
<text class="tk" x="1554.3" y="868.9" text-anchor="middle">0.75</text>
<line x1="1362.8" y1="599.1" x2="1368.7" y2="599.1" stroke="#333" stroke-width="2.4"/>
<text class="tk" x="1359" y="603.7" text-anchor="end">0.75</text>
<line x1="1612.2" y1="847.8" x2="1612.2" y2="853.9" stroke="#333" stroke-width="2.4"/>
<text class="tk" x="1612.3" y="868.9" text-anchor="middle">1.00</text>
<line x1="1362.8" y1="521.5" x2="1368.7" y2="521.5" stroke="#333" stroke-width="2.4"/>
<text class="tk" x="1359" y="526.1" text-anchor="end">1.00</text>
<text class="st" x="1496.4" y="895.8" text-anchor="middle">Concha Perla</text>
</g>
<g>
<path d="M1701 832.2 L1701 832.1 L1842.6 832.1 L1855.8 831.5 L1860.5 830.8 L1866.5 830.7 L1869.3 830.2 L1873.1 829 L1876.6 828.4 L1878.1 828 L1879.8 826.9 L1883.2 824.2 L1884.3 823.8 L1887.1 823.6 L1888.5 823 L1890.7 821.2 L1894.7 818.6 L1896.9 816.2 L1899.4 812.2 L1901.5 807.9 L1906 795.4 L1911.3 783.6 L1912.5 780.3 L1913.5 776 L1914.6 770 L1917.3 749.3 L1919.4 727.6 L1921.6 698.3 L1923.1 656.5 L1925 614.6 L1929.1 532.2 L1929.9 521.5 L1930.3 524.2 L1930.6 530.8 L1931.3 553.7 L1933 643.5 L1933.5 699.1 L1933.5 832.2 Z" fill="#00008b" fill-opacity="0.3" stroke="none"/>
<path d="M1701 832.1 L1842.6 832.1 L1855.8 831.5 L1860.5 830.8 L1866.5 830.7 L1869.3 830.2 L1873.1 829 L1876.6 828.4 L1878.1 828 L1879.8 826.9 L1883.2 824.2 L1884.3 823.8 L1887.1 823.6 L1888.5 823 L1890.7 821.2 L1894.7 818.6 L1896.9 816.2 L1899.4 812.2 L1901.5 807.9 L1906 795.4 L1911.3 783.6 L1912.5 780.3 L1913.5 776 L1914.6 770 L1917.3 749.3 L1919.4 727.6 L1921.6 698.3 L1923.1 656.5 L1925 614.6 L1929.1 532.2 L1929.9 521.5 L1930.3 524.2 L1930.6 530.8 L1931.3 553.7 L1933 643.5 L1933.5 699.1" fill="none" stroke="#00008b" stroke-width="2.55" stroke-linejoin="round"/>
<path d="M1701 832.2 L1701 699 L1701.6 641 L1703.3 554.4 L1704 530.3 L1704.6 521.5 L1705.3 532.1 L1709.3 612.6 L1712.9 693.5 L1715.4 726.4 L1718.2 753.7 L1719.5 764 L1720.8 772.8 L1722.1 778.7 L1723.5 783.7 L1725.3 788.2 L1730.1 797.9 L1733.9 807.2 L1736.5 812.2 L1739.2 816.7 L1741.1 818.7 L1746.8 823 L1747.9 823.5 L1751 823.9 L1754 826.4 L1756.8 827.9 L1761.5 828.8 L1764.7 830.3 L1768.7 830.5 L1771.8 831.2 L1775.7 831 L1780 832 L1790.8 832.1 L1933.1 832.1 L1933.1 832.2 Z" fill="#006400" fill-opacity="0.3" stroke="none"/>
<path d="M1701 699 L1701.6 641 L1703.3 554.4 L1704 530.3 L1704.6 521.5 L1705.3 532.1 L1709.3 612.6 L1712.9 693.5 L1715.4 726.4 L1718.2 753.7 L1719.5 764 L1720.8 772.8 L1722.1 778.7 L1723.5 783.7 L1725.3 788.2 L1730.1 797.9 L1733.9 807.2 L1736.5 812.2 L1739.2 816.7 L1741.1 818.7 L1746.8 823 L1747.9 823.5 L1751 823.9 L1754 826.4 L1756.8 827.9 L1761.5 828.8 L1764.7 830.3 L1768.7 830.5 L1771.8 831.2 L1775.7 831 L1780 832 L1790.8 832.1 L1933.1 832.1" fill="none" stroke="#006400" stroke-width="2.55" stroke-linejoin="round"/>
<rect x="1690.4" y="506.5" width="253.9" height="340.6" fill="none" stroke="#333" stroke-width="1.5"/>
<line x1="1701.3" y1="847.8" x2="1701.3" y2="853.9" stroke="#333" stroke-width="2.4"/>
<text class="tk" x="1701.4" y="868.9" text-anchor="middle">0.00</text>
<line x1="1683.8" y1="832.2" x2="1689.7" y2="832.2" stroke="#333" stroke-width="2.4"/>
<text class="tk" x="1680" y="836.8" text-anchor="end">0.00</text>
<line x1="1759.3" y1="847.8" x2="1759.3" y2="853.9" stroke="#333" stroke-width="2.4"/>
<text class="tk" x="1759.4" y="868.9" text-anchor="middle">0.25</text>
<line x1="1683.8" y1="754.5" x2="1689.7" y2="754.5" stroke="#333" stroke-width="2.4"/>
<text class="tk" x="1680" y="759.1" text-anchor="end">0.25</text>
<line x1="1817.2" y1="847.8" x2="1817.2" y2="853.9" stroke="#333" stroke-width="2.4"/>
<text class="tk" x="1817.3" y="868.9" text-anchor="middle">0.50</text>
<line x1="1683.8" y1="676.8" x2="1689.7" y2="676.8" stroke="#333" stroke-width="2.4"/>
<text class="tk" x="1680" y="681.4" text-anchor="end">0.50</text>
<line x1="1875.2" y1="847.8" x2="1875.2" y2="853.9" stroke="#333" stroke-width="2.4"/>
<text class="tk" x="1875.3" y="868.9" text-anchor="middle">0.75</text>
<line x1="1683.8" y1="599.1" x2="1689.7" y2="599.1" stroke="#333" stroke-width="2.4"/>
<text class="tk" x="1680" y="603.7" text-anchor="end">0.75</text>
<line x1="1933.1" y1="847.8" x2="1933.1" y2="853.9" stroke="#333" stroke-width="2.4"/>
<text class="tk" x="1933.2" y="868.9" text-anchor="middle">1.00</text>
<line x1="1683.8" y1="521.5" x2="1689.7" y2="521.5" stroke="#333" stroke-width="2.4"/>
<text class="tk" x="1680" y="526.1" text-anchor="end">1.00</text>
<text class="st" x="1817.3" y="895.8" text-anchor="middle">Estero</text>
</g>
<rect x="1681.2" y="958.65" width="33.3" height="33.3" fill="#b3b3dc" stroke="#000" stroke-width="2.45"/>
<text class="st" style="letter-spacing:0" x="1727.2" y="982.9">Marine</text>
<rect x="1804.4" y="958.65" width="33.3" height="33.3" fill="#b3d1b3" stroke="#000" stroke-width="2.45"/>
<text class="st" style="letter-spacing:0" x="1850.4" y="982.9">Terrestrial</text>
</svg>
</body></html>
